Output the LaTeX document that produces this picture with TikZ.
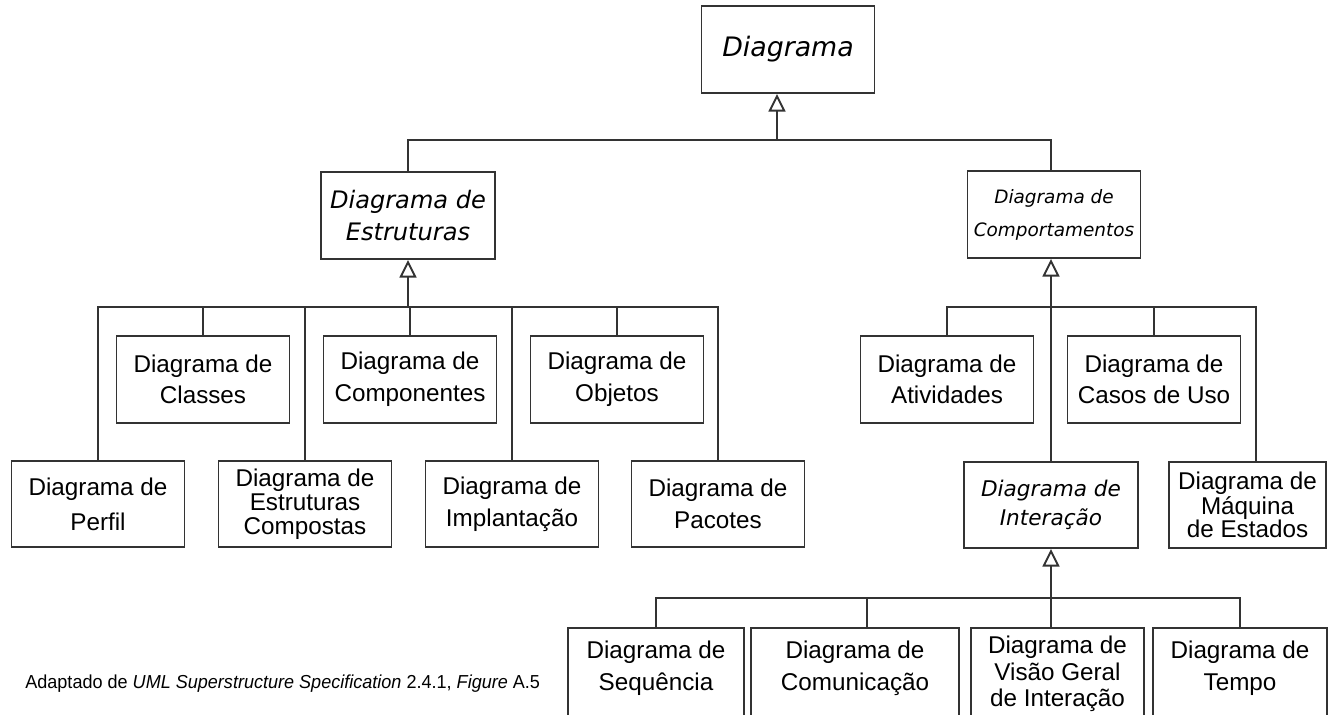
\documentclass[tikz,border=0pt]{standalone}
\usepackage{fontspec}
\usetikzlibrary{arrows.meta}
\newfontfamily\arialfont{Liberation Sans}
\newfontfamily\dejafont{DejaVu Sans}
\newfontfamily\captionfont[FakeStretch=0.96]{Liberation Sans}
\tikzset{
  boxline/.style={draw=black!80, line width=1.1pt},
  umlbox/.style={boxline, rectangle, inner sep=0pt, minimum width=3.46cm, minimum height=1.74cm, align=center},
  concrete/.style={umlbox, font=\arialfont\fontsize{13.8}{18}\selectfont},
  abstract/.style={umlbox, font=\dejafont\itshape\fontsize{13.7}{18}\selectfont},
  bottomtext/.style={concrete, draw=none, anchor=north, minimum height=1.58cm},
  link/.style={black!80, line width=1.1pt},
  gen/.style={link, -{Triangle[open, length=10pt, width=9.6pt]}},
}
\begin{document}
\begin{tikzpicture}[x=0.02cm, y=-0.02cm]
\useasboundingbox (0,0) rectangle (1328,714);
\fill[white] (0,0) rectangle (1328,714);
\clip (0,0) rectangle (1328,714);
% abstract diagrams
\node[abstract, font=\dejafont\itshape\fontsize{15.25}{18}\selectfont] (dia) at (788,49.5) {Diagrama};
\node[abstract, minimum width=3.48cm] (estr) at (408,215.5) {Diagrama de\\Estruturas};
\node[abstract, font=\dejafont\itshape\fontsize{10.5}{18.7}\selectfont] (comp) at (1054,214.5) {Diagrama de\\Comportamentos};
\node[abstract, font=\dejafont\itshape\fontsize{12.3}{16.4}\selectfont, minimum width=3.48cm, minimum height=1.72cm] (inter) at (1051,505) {Diagrama de\\Interação};
% structure diagrams
\node[concrete] (classes) at (203,379.5) {Diagrama de\\Classes};
\node[concrete] (componentes) at (410,379.5) {Diagrama de\\Componentes};
\node[concrete] (objetos) at (617,379.5) {Diagrama de\\Objetos};
\node[concrete, minimum height=1.72cm] (perfil) at (98,504) {Diagrama de\\[1.8pt]Perfil};
\node[concrete, minimum height=1.72cm, font=\arialfont\fontsize{13.8}{13.6}\selectfont] (compostas) at (305,504) {Diagrama de\\Estruturas\\Compostas};
\node[concrete, minimum height=1.72cm] (implant) at (512,504) {Diagrama de\\Implantação};
\node[concrete, minimum height=1.72cm] (pacotes) at (718,504) {Diagrama de\\Pacotes};
% behaviour diagrams
\node[concrete] (ativ) at (947,379.5) {Diagrama de\\Atividades};
\node[concrete] (casos) at (1154,379.5) {Diagrama de\\Casos de Uso};
\node[concrete, minimum width=3.14cm, minimum height=1.72cm, font=\arialfont\fontsize{13.8}{13}\selectfont] (maquina) at (1247.5,505) {Diagrama de\\Máquina\\de Estados};
% interaction diagrams
\node[bottomtext, minimum width=3.48cm] (seq) at (656,628) {Diagrama de\\Sequência};
\node[bottomtext, minimum width=4.12cm] (comun) at (855,628) {Diagrama de\\Comunicação};
\node[bottomtext, minimum width=3.42cm, minimum height=1.8cm, font=\arialfont\fontsize{13.8}{15}\selectfont] (visao) at (1057.5,628) {Diagrama de\\Visão Geral\\de Interação};
\node[bottomtext, minimum width=3.44cm] (tempo) at (1240,628) {Diagrama de\\Tempo};
\foreach \n in {seq,comun,visao,tempo}
  \draw[boxline] ([yshift=-0.5cm]\n.south west) |- (\n.north east) -- ([yshift=-0.5cm]\n.south east);
% generalizations
\coordinate (topbus) at (777,140);
\coordinate (strbus) at (408,307);
\coordinate (behbus) at (1051,307);
\coordinate (intbus) at (1051,598);
\draw[gen] (topbus) -- (topbus |- dia.south);
\draw[link] (estr.north) |- (topbus) -| (behbus |- comp.north);
\draw[gen] (strbus) -- (estr.south);
\foreach \n in {perfil,classes,compostas,componentes,implant,objetos,pacotes}
  \draw[link] (\n.north) |- (strbus);
\draw[gen] (behbus) -- (behbus |- comp.south);
\draw[link] (ativ.north) |- (behbus);
\draw[link] (casos.north) |- (behbus);
\draw[link] (inter.north) -- (behbus);
\draw[link] ([xshift=0.17cm]maquina.north) |- (behbus);
\draw[gen] (intbus) -- (inter.south);
\draw[link] (seq.north) |- (intbus);
\draw[link] ([xshift=0.24cm]comun.north) |- (intbus);
\draw[link] ([xshift=-0.13cm]visao.north) |- (intbus);
\draw[link] (tempo.north) |- (intbus);
% source
\node[anchor=west, inner sep=0pt, font=\captionfont\fontsize{10.7}{12}\selectfont] (fonte) at (25,684)
  {Adaptado de \textit{UML Superstructure Specification} 2.4.1, \textit{Figure} A.5};
\end{tikzpicture}
\end{document}
